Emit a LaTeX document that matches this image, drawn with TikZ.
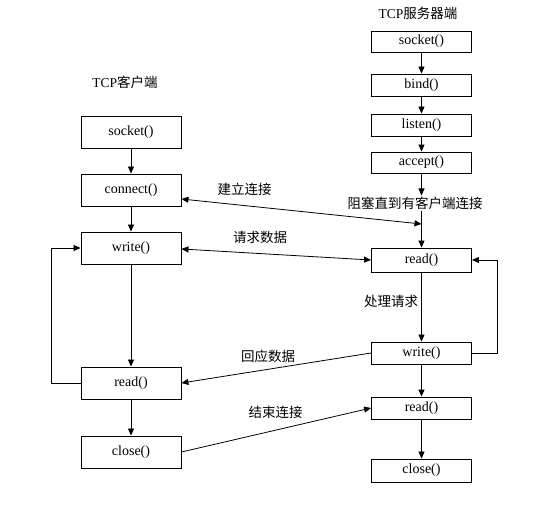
\documentclass[tikz,border=0pt]{standalone}
\usepackage{fontspec}
\setmainfont{Liberation Serif}
\newfontfamily\cjk{Noto Sans CJK SC}
\usetikzlibrary{arrows.meta}
\tikzset{
  fn/.style={draw, line width=0.9pt, minimum width=100pt, inner sep=0pt, font=\fontsize{14}{14}\selectfont},
  sbox/.style={fn, minimum height=22pt},
  cbox/.style={fn, minimum height=32pt},
  conn/.style={line width=0.8pt, -{Triangle[length=7pt,width=6pt]}},
  dconn/.style={line width=0.8pt, {Triangle[length=7pt,width=6pt]}-{Triangle[length=7pt,width=6pt]}},
  lbl/.style={font=\cjk\fontsize{13.5}{14}\selectfont, inner sep=1pt},
  ttl/.style={font=\fontsize{13.5}{14}\selectfont, inner sep=0pt}
}
\begin{document}
\begin{tikzpicture}[x=1pt,y=-1pt]
\useasboundingbox[fill=white] (0,0) rectangle (537,506);
% titles
\node[ttl] (tserver) at (418,13) {TCP{\cjk 服务器端}};
\node[ttl] (tclient) at (125,82) {TCP{\cjk 客户端}};
% server boxes
\node[sbox, minimum height=21pt] (ssock) at (421.5,41.5) {socket()};
\node[sbox] (sbind) at (421.5,85) {bind()};
\node[sbox] (slisten) at (421.5,125) {listen()};
\node[sbox, minimum height=21pt] (saccept) at (421.5,162.5) {accept()};
\node[sbox, minimum height=24pt] (sread) at (421.5,260) {read()};
\node[sbox] (swrite) at (421.5,353) {write()};
\node[sbox] (sread2) at (421.5,408) {read()};
\node[sbox, minimum height=23pt] (sclose) at (421.5,470.5) {close()};
% client boxes
\node[cbox] (csock) at (131,132) {socket()};
\node[cbox] (cconn) at (131,190) {connect()};
\node[cbox] (cwrite) at (131,248) {write()};
\node[cbox] (cread) at (131,383) {read()};
\node[cbox] (cclose) at (131,452) {close()};
% labels
\node[lbl, fill=white] (block) at (415,203) {阻塞直到有客户端连接};
\node[lbl] (lconn) at (244.5,189) {建立连接};
\node[lbl] (lreq) at (260,237) {请求数据};
\node[lbl] (lproc) at (391,301) {处理请求};
\node[lbl] (lresp) at (268,356) {回应数据};
\node[lbl] (lend) at (275.5,412) {结束连接};
% server vertical flow
\draw[conn] (ssock) -- (sbind);
\draw[conn] (sbind) -- (slisten);
\draw[conn] (slisten) -- (saccept);
\draw[conn] (saccept.south) -- (saccept.south |- block.north);
\draw[conn] (saccept.south |- block.south) -- (sread.north);
\draw[conn] (sread) -- (swrite);
\draw[conn] (swrite) -- (sread2);
\draw[conn] (sread2) -- (sclose);
\draw[conn] (swrite.east) -- ++(25.5,0) |- (sread.east);
% client vertical flow
\draw[conn] (csock) -- (cconn);
\draw[conn] (cconn) -- (cwrite);
\draw[conn] (cwrite) -- (cread);
\draw[conn] (cread) -- (cclose);
\draw[conn] (cread.west) -- ++(-29,0) |- (cwrite.west);
% exchanges
\coordinate (join) at (421.5,224);
\draw[dconn] ([yshift=-9pt]cconn.east) -- (join);
\draw[dconn] ([yshift=-1pt]cwrite.east) -- (sread.west);
\draw[conn] (swrite.west) -- (cread.east);
\draw[conn] (cclose.east) -- (sread2.west);
\end{tikzpicture}
\end{document}
